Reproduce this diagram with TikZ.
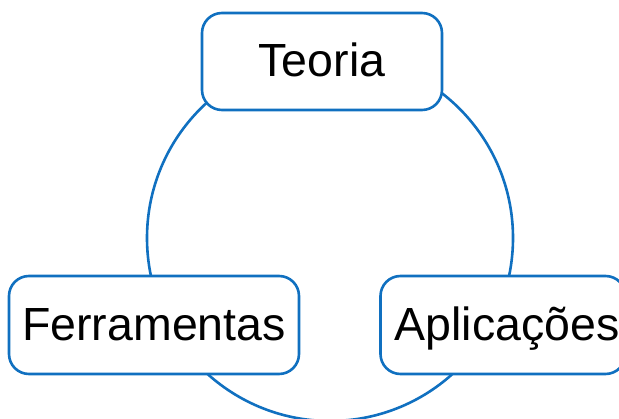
\documentclass[tikz,border=0pt]{standalone}
\usepackage{fontspec}
\setmainfont{Liberation Sans}
\definecolor{cycleblue}{RGB}{16,112,192}
\begin{document}
\begin{tikzpicture}[x=1pt,y=-1pt,
  topic/.style={draw=cycleblue, line width=2.6pt, fill=white, rounded corners=20pt,
    inner sep=0pt, text height=31pt, text depth=0pt,
    font=\fontsize{46.5}{50}\selectfont, text=black}]
\useasboundingbox (0,0) rectangle (619,419);
% the cycle ring behind the three topics
\draw[cycleblue, line width=2.6pt] (330,238) circle (183);
\node[topic, minimum width=240pt, minimum height=97pt] (teoria) at (322,61.5) {Teoria};
\node[topic, minimum width=290pt, minimum height=98pt] (ferr) at (154,325) {Ferramentas};
\node[topic, minimum width=245pt, minimum height=98pt] (apl) at (503,325) {\hspace*{8pt}Aplicações};
\end{tikzpicture}
\end{document}
